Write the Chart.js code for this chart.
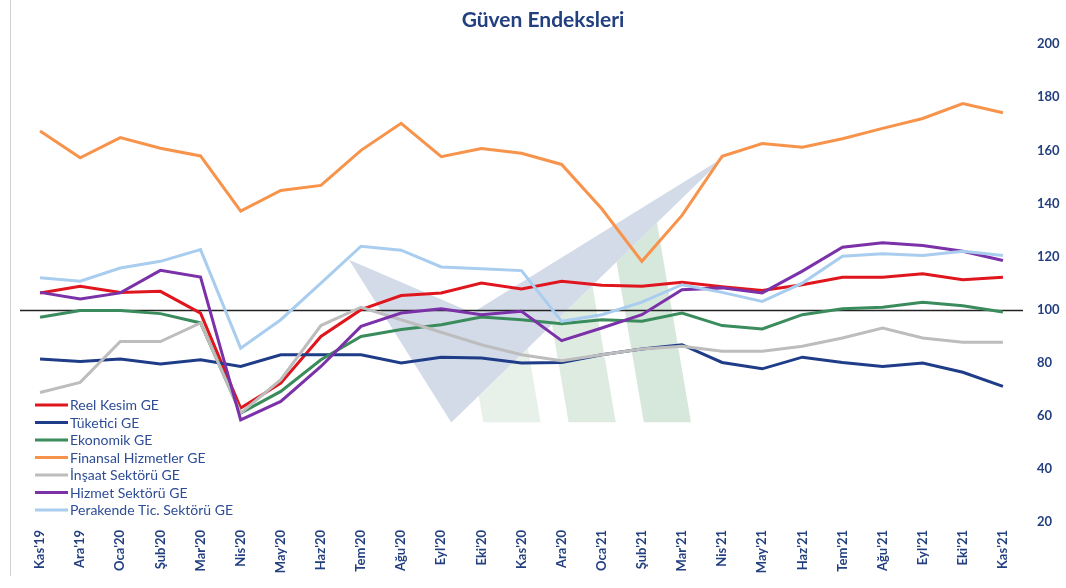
<!DOCTYPE html>
<html>
<head>
<meta charset="utf-8">
<script src="https://cdn.jsdelivr.net/npm/chart.js@4.4.1/dist/chart.umd.min.js"></script>
<style>
  html, body { margin: 0; padding: 0; background: #ffffff; }
  #wrap { width: 1066px; height: 588px; position: relative; }
</style>
</head>
<body>
<div id="wrap"><canvas id="c" width="1066" height="588"></canvas></div>
<script>
const categories = ["Kas'19","Ara'19","Oca'20","Şub'20","Mar'20","Nis'20","May'20","Haz'20","Tem'20","Ağu'20","Eyl'20","Eki'20","Kas'20","Ara'20","Oca'21","Şub'21","Mar'21","Nis'21","May'21","Haz'21","Tem'21","Ağu'21","Eyl'21","Eki'21","Kas'21"];

const reelKesim = [106.3,108.8,106.5,106.9,98.7,62.9,72.3,89.9,100,105.3,106.3,110,107.8,110.7,109.2,108.8,110.3,108.6,107.2,109.4,112.2,112.2,113.5,111.3,112.2];
const tuketici  = [81.4,80.5,81.4,79.5,81.1,78.6,83,83,83,79.9,82.1,81.8,79.9,80.1,83,85.2,86.8,80.1,77.7,82.1,80.1,78.6,79.9,76.4,71.1];
const ekonomik  = [97.1,99.7,99.7,98.5,95,61,69.2,81.1,89.9,92.5,94.3,97.2,96.2,94.7,96.2,95.6,98.7,94,92.7,98.1,100.3,100.9,102.8,101.5,99.1];
const finansal  = [167.3,157.2,164.8,160.8,157.9,137.1,144.9,146.8,160,170.2,157.6,160.7,158.9,154.7,138,118.2,135.5,157.8,162.6,161.2,164.4,168.3,172,177.6,174.2];
const insaat    = [68.8,72.6,88,88,95,61,73.6,94,100.9,96.2,91.5,86.8,83,80.8,83,85.2,86.2,84.3,84.3,86.2,89.3,93.1,89.3,87.7,87.7];
const hizmet    = [106.5,104,106.3,114.8,112.3,58.5,65.4,78.6,93.7,98.7,100.3,98.1,99.4,88.3,93.1,98.1,107.5,108.2,106.3,114.5,123.5,125.2,124.2,122,118.5];
const perakende = [112,110.7,115.7,118.2,122.6,85.5,96.2,110,123.9,122.4,116.1,115.4,114.7,95.6,98.1,102.8,109.4,106.5,103.1,110,120.1,121.1,120.4,122,120.4];

const seriesNames = ["Reel Kesim GE","Tüketici GE","Ekonomik GE","Finansal Hizmetler GE","İnşaat Sektörü GE","Hizmet Sektörü GE","Perakende Tic. Sektörü GE"];
const seriesData = [reelKesim, tuketici, ekonomik, finansal, insaat, hizmet, perakende];
const seriesColors = ["#E0161E","#1F3C88","#3A8C5C","#F7934A","#BDBDBD","#7B32A8","#A9CDEE"];

const yTicks = [20,40,60,80,100,120,140,160,180,200];
const referenceValue = 100;
const chartTitle = "Güven Endeksleri";

const TEXT_NAVY = "#223F7F";
const FONT = 'Lato, "Open Sans", sans-serif';

const datasets = seriesNames.map((name, i) => ({
  label: name,
  data: seriesData[i],
  borderColor: seriesColors[i],
  backgroundColor: seriesColors[i],
  borderWidth: 3,
  pointRadius: 0,
  pointHoverRadius: 0,
  tension: 0,
  fill: false,
  order: seriesNames.length - i
}));

// decorative watermark (chart-area fractions)
const watermarkPlugin = {
  id: 'watermark',
  beforeDatasetsDraw(chart) {
    const a = chart.chartArea, ctx = chart.ctx;
    const P = (fx, fy) => [a.left + fx * (a.right - a.left), a.top + fy * (a.bottom - a.top)];
    const path = (pts) => {
      ctx.beginPath();
      pts.forEach((p, k) => { const q = P(p[0], p[1]); k ? ctx.lineTo(q[0], q[1]) : ctx.moveTo(q[0], q[1]); });
      ctx.closePath();
    };
    ctx.save();
    // clip to region below the V's outer edge
    path([[0.430, 0.792], [0.703, 0.235], [0.9, 0.235], [0.9, 0.792]]);
    ctx.clip();
    const bottom = 0.792;
    const stripes = [[0.462, 0.519, '#E7F0E9'], [0.547, 0.594, '#DEEBE1'], [0.622, 0.669, '#D6E7DB']];
    stripes.forEach(s => {
      path([[s[0], bottom], [s[1], bottom], [s[1] - 0.048, 0.2], [s[0] - 0.048, 0.2]]);
      ctx.fillStyle = s[2]; ctx.fill();
    });
    ctx.restore();
    ctx.save();
    path([[0.328, 0.451], [0.430, 0.792], [0.703, 0.235], [0.451, 0.562]]);
    ctx.fillStyle = 'rgba(205,213,228,0.85)'; ctx.fill();
    ctx.restore();
  }
};

const refLinePlugin = {
  id: 'refLine',
  beforeDatasetsDraw(chart) {
    const a = chart.chartArea, ctx = chart.ctx;
    const y = Math.round(chart.scales.y.getPixelForValue(referenceValue)) + 0.5;
    ctx.save();
    ctx.strokeStyle = '#222222';
    ctx.lineWidth = 1.5;
    ctx.beginPath(); ctx.moveTo(a.left, y); ctx.lineTo(a.right, y); ctx.stroke();
    ctx.restore();
  }
};

const customLegend = {
  id: 'customLegend',
  afterDraw(chart) {
    const a = chart.chartArea, ctx = chart.ctx;
    ctx.save();
    ctx.font = '14px ' + FONT;
    ctx.textBaseline = 'middle';
    const x0 = a.left + 15, y0 = 405, dy = 17.5;
    chart.data.datasets.forEach((ds, i) => {
      const y = y0 + i * dy;
      ctx.strokeStyle = ds.borderColor; ctx.lineWidth = 3;
      ctx.beginPath(); ctx.moveTo(x0, y); ctx.lineTo(x0 + 33, y); ctx.stroke();
      ctx.fillStyle = '#2E4D96';
      ctx.fillText(ds.label, x0 + 35, y + 0.5);
    });
    ctx.restore();
  }
};

const frame = {
  id: 'frame',
  beforeDraw(chart) {
    const ctx = chart.ctx;
    ctx.save();
    ctx.fillStyle = '#ffffff'; ctx.fillRect(0, 0, chart.width, chart.height);
    ctx.strokeStyle = '#D0D0D0'; ctx.lineWidth = 1;
    ctx.beginPath(); ctx.moveTo(10.5, 0); ctx.lineTo(10.5, 576); ctx.stroke();
    ctx.restore();
  }
};

new Chart(document.getElementById('c'), {
  type: 'line',
  data: { labels: categories, datasets },
  options: {
    responsive: false,
    animation: false,
    layout: { padding: { left: 20, right: 0, top: 0, bottom: 0 } },
    plugins: {
      legend: { display: false },
      tooltip: { enabled: false },
      title: {
        display: true, text: chartTitle, color: TEXT_NAVY,
        font: { family: FONT, size: 21, weight: 'bold' },
        padding: { top: 8, bottom: 11 }
      }
    },
    scales: {
      x: {
        offset: true,
        grid: { display: false, drawTicks: false },
        border: { display: false },
        ticks: {
          autoSkip: false, maxRotation: 90, minRotation: 90, padding: 8,
          color: TEXT_NAVY,
          font: { family: FONT, size: 13, weight: 'bold' }
        },
        afterFit(s) { s.height = 66; }
      },
      y: {
        position: 'right',
        min: 20, max: 200,
        grid: { display: false, drawTicks: false },
        border: { display: false },
        afterBuildTicks(s) { s.ticks = yTicks.map(v => ({ value: v })); },
        ticks: {
          padding: 14,
          color: TEXT_NAVY,
          font: { family: FONT, size: 13, weight: 'bold' }
        },
        afterFit(s) { s.width = 43; }
      }
    }
  },
  plugins: [frame, watermarkPlugin, refLinePlugin, customLegend]
});
</script>
</body>
</html>
